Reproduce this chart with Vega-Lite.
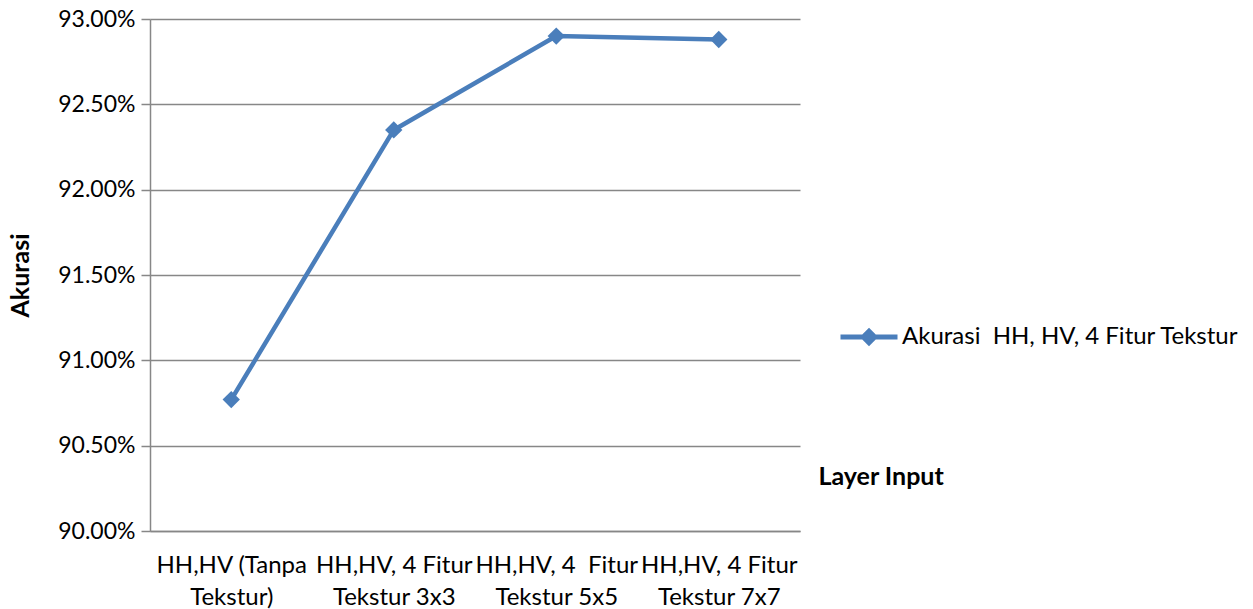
{
  "$schema": "https://vega.github.io/schema/vega-lite/v6.json",
  "width": 650,
  "height": 512,
  "autosize": {"type": "none"},
  "padding": {"left": 150, "top": 19, "right": 453, "bottom": 78},
  "background": "white",
  "config": {
    "view": {"stroke": null},
    "font": "Lato"
  },
  "data": {
    "values": [
      {"layer": "HH,HV (Tanpa|Tekstur)", "akurasi": 0.9077, "series": "Akurasi \u00a0HH, HV, 4 Fitur Tekstur"},
      {"layer": "HH,HV, 4 Fitur|Tekstur 3x3", "akurasi": 0.9235, "series": "Akurasi \u00a0HH, HV, 4 Fitur Tekstur"},
      {"layer": "HH,HV, 4 \u00a0Fitur|Tekstur 5x5", "akurasi": 0.9290, "series": "Akurasi \u00a0HH, HV, 4 Fitur Tekstur"},
      {"layer": "HH,HV, 4 Fitur|Tekstur 7x7", "akurasi": 0.9288, "series": "Akurasi \u00a0HH, HV, 4 Fitur Tekstur"}
    ]
  },
  "mark": {"type": "line", "strokeWidth": 4.5, "point": {"shape": "diamond", "size": 300, "filled": true, "opacity": 1}},
  "encoding": {
    "x": {
      "field": "layer",
      "type": "nominal",
      "sort": null,
      "scale": {"paddingInner": 0, "paddingOuter": 0.5},
      "axis": {
        "title": "Layer Input",
        "titleFont": "Lato",
        "titleFontWeight": "bold",
        "titleFontSize": 25,
        "titleColor": "#000000",
        "titleX": 668,
        "titleY": -55,
        "titleAlign": "left",
        "titleBaseline": "middle",
        "titleAngle": 0,
        "labelExpr": "split(datum.label, '|')",
        "labelAngle": 0,
        "labelFontSize": 24,
        "labelColor": "#000000",
        "labelLineHeight": 32,
        "labelPadding": 22,
        "labelBaseline": "top",
        "labelLimit": 0,
        "ticks": false,
        "domainColor": "#878787",
        "domainWidth": 1.5,
        "grid": false
      }
    },
    "y": {
      "field": "akurasi",
      "type": "quantitative",
      "scale": {"domain": [0.9, 0.93], "nice": false, "zero": false},
      "axis": {
        "title": "Akurasi",
        "titleFontWeight": "bold",
        "titleFontSize": 25,
        "titleColor": "#000000",
        "titleX": -130,
        "titleY": 256,
        "titleAngle": -90,
        "titleAlign": "center",
        "titleBaseline": "middle",
        "format": ".2%",
        "values": [0.9, 0.905, 0.91, 0.915, 0.92, 0.925, 0.93],
        "labelFontSize": 23,
        "labelColor": "#000000",
        "labelPadding": 6,
        "tickSize": 9,
        "tickColor": "#878787",
        "tickWidth": 1.5,
        "domainColor": "#878787",
        "domainWidth": 1.5,
        "gridColor": "#878787",
        "gridWidth": 1.5
      }
    },
    "color": {
      "field": "series",
      "type": "nominal",
      "scale": {"range": ["#4A7EBB"]},
      "legend": {
        "title": null,
        "orient": "none",
        "legendX": 688,
        "legendY": 287,
        "padding": 0,
        "symbolType": "M-1,0H1M0,-0.2L0.2,0L0,0.2L-0.2,0Z",
        "symbolSize": 3249,
        "symbolStrokeWidth": 5,
        "symbolFillColor": "#4A7EBB",
        "symbolStrokeColor": "#4A7EBB",
        "labelFontSize": 24,
        "labelColor": "#000000",
        "labelOffset": 2,
        "labelLimit": 0
      }
    }
  }
}
